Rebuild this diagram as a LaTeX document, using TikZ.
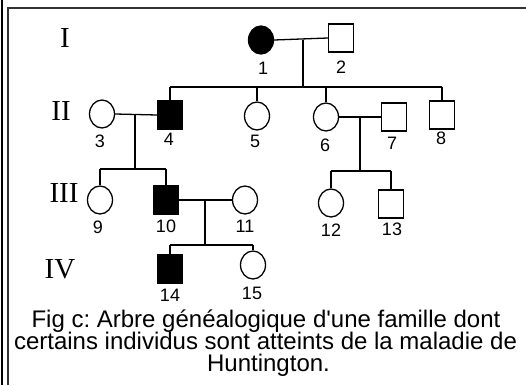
\documentclass[tikz,border=0pt]{standalone}
\usepackage{fontspec}
\setmainfont{Liberation Sans}
\newfontfamily\romanfont{Liberation Serif}
\newfontfamily\capfont{Liberation Sans}
\usetikzlibrary{shapes.geometric}
\frenchspacing
\begin{document}
\begin{tikzpicture}[x=1pt,y=-1pt,
  fem/.style={ellipse,draw,line width=1.3pt,inner sep=0pt,minimum width=25pt,minimum height=28pt},
  mal/.style={rectangle,draw,line width=1.3pt,inner sep=0pt,minimum width=25pt,minimum height=28pt},
  aff/.style={fill=black},
  lnk/.style={line width=1.3pt},
  num/.style={font=\fontsize{18}{18}\selectfont,inner sep=0pt},
  gen/.style={font=\romanfont\fontsize{29}{29}\selectfont,inner sep=0pt},
  captext/.style={font=\capfont\fontsize{24}{24}\selectfont,inner sep=0pt,anchor=base}]
\useasboundingbox (0,0) rectangle (526,385);
\fill[white] (0,0) rectangle (526,385);
% frame
\draw[line width=2pt] (2,0) -- (2,385);
\draw[line width=1.6pt,black!80] (8,385) -- (8,8) -- (526,8);
% generation labels
\node[gen] (gI) at (65,38) {I};
\node[gen] (gII) at (61,111) {II};
\node[gen] (gIII) at (64,193) {III};
\node[gen] (gIV) at (60,269) {IV};
% generation I
\node[fem,aff] (n1) at (261,40) {};
\node[mal] (n2) at (341,38) {};
% generation II
\node[fem] (n3) at (102,114) {};
\node[mal,aff] (n4) at (170,115) {};
\node[fem] (n5) at (257,116) {};
\node[fem] (n6) at (326,117) {};
\node[mal] (n7) at (394,117) {};
\node[mal] (n8) at (442,115) {};
% generation III
\node[fem] (n9) at (100,200) {};
\node[mal,aff] (n10) at (166,200) {};
\node[fem] (n11) at (245,200) {};
\node[fem] (n12) at (331,203) {};
\node[mal] (n13) at (391,204) {};
% generation IV
\node[mal,aff] (n14) at (170,269) {};
\node[fem] (n15) at (253,265) {};
% numbers
\node[num] (l1) at (263,68) {1};
\node[num] (l2) at (341,67) {2};
\node[num] (l3) at (100,141) {3};
\node[num] (l4) at (169,139) {4};
\node[num] (l5) at (255,141) {5};
\node[num] (l6) at (325,145) {6};
\node[num] (l7) at (392,143) {7};
\node[num] (l8) at (441,138) {8};
\node[num] (l9) at (98,227) {9};
\node[num] (l10) at (166,226) {10};
\node[num] (l11) at (245,226) {11};
\node[num] (l12) at (331,230) {12};
\node[num] (l13) at (392,229) {13};
\node[num] (l14) at (170,295) {14};
\node[num] (l15) at (252,293) {15};
% junction coordinates
\coordinate (m12) at (303,40);
\coordinate (s12) at (303,87);
\coordinate (m34) at (135,115);
\coordinate (s34) at (135,169);
\coordinate (m67) at (360,117);
\coordinate (s67) at (360,171);
\coordinate (m1011) at (205,200);
\coordinate (s1011) at (205,245);
% couples
\draw[lnk] (n1.east) -- (n2.west);
\draw[lnk] (n3.east) -- (n4.west);
\draw[lnk] (n6.east) -- (n7.west);
\draw[lnk] (n10.east) -- (n11.west);
% descent
\draw[lnk] (m12) -- (s12);
\draw[lnk] (n4 |- s12) -- (n8 |- s12);
\draw[lnk] (n4 |- s12) -- (n4.north);
\draw[lnk] (n5 |- s12) -- (n5.north);
\draw[lnk] (n6 |- s12) -- (n6.north);
\draw[lnk] (n8 |- s12) -- (n8.north);
\draw[lnk] (m34) -- (s34);
\draw[lnk] (n9 |- s34) -- (n10 |- s34);
\draw[lnk] (n9 |- s34) -- (n9.north);
\draw[lnk] (n10 |- s34) -- (n10.north);
\draw[lnk] (m67) -- (s67);
\draw[lnk] (n12 |- s67) -- (n13 |- s67);
\draw[lnk] (n12 |- s67) -- (n12.north);
\draw[lnk] (n13 |- s67) -- (n13.north);
\draw[lnk] (m1011) -- (s1011);
\draw[lnk] (n14 |- s1011) -- (n15 |- s1011);
\draw[lnk] (n14 |- s1011) -- (n14.north);
\draw[lnk] (n15 |- s1011) -- (n15.north);
% caption
\node[captext] (capA) at (266,327) {Fig c: Arbre généalogique d'une famille dont};
\node[captext] (capB) at (265.5,349) {certains individus sont atteints de la maladie de};
\node[captext] (capC) at (268.5,371) {Huntington.};
\end{tikzpicture}
\end{document}
